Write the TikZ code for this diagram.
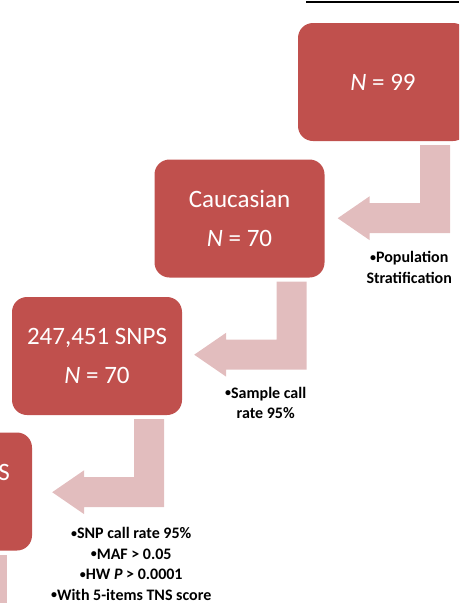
\documentclass[tikz,border=0pt]{standalone}
\usepackage{fontspec}
\setmainfont{Carlito}
\usetikzlibrary{calc}
\definecolor{boxred}{HTML}{C0504D}
\definecolor{arrowpink}{RGB}{226,189,190}
\newcommand{\blt}{\raisebox{.15ex}{\scalebox{.75}{\textbullet}}}
\tikzset{
  stepbox/.style={fill=boxred, rounded corners=15pt, minimum width=170pt, minimum height=118pt,
    inner sep=0pt, text=white, align=center, font=\fontsize{25}{39}\selectfont},
  steplabel/.style={anchor=north, inner sep=0pt, align=center, font=\bfseries\fontsize{16}{20.5}\selectfont}
}

\begin{document}
\begin{tikzpicture}[x=1pt,y=-1pt]
  \useasboundingbox (0,0) rectangle (459,603);
  \clip (0,0) rectangle (459,603);
  \draw[line width=2pt] (306,2) -- (459,2);
  % steps
  \node[stepbox] (pop) at (383,82) {\textit{N} = 99};
  \node[stepbox] (cauc) at (239.5,218.5) {Caucasian\\\textit{N} = 70};
  \node[stepbox] (snps) at (97,356) {247,451 SNPS\\\textit{N} = 70};
  \node[stepbox] (final) at (-53,491.5) {};
  \node[anchor=east, inner sep=0pt, text=white, font=\fontsize{25}{39}\selectfont] (final-txt) at (10,472) {S};
  % bent arrows
  \foreach \a/\b/\gap in {pop/cauc/13, cauc/snps/12, snps/final/20} {
    \coordinate (c) at ($(\a.south east)+(-48,4)$);
    \coordinate (t) at ($(\b.east)+(\gap,0)$);
    \fill[arrowpink] (c) -- ++(30,0) -- ++(0,88) -- ($(t |- c)+(32,88)$) -- ++(0,7)
      -- ($(t |- c)+(0,73)$) -- ($(t |- c)+(32,51)$) -- ++(0,7) -- ($(c)+(0,58)$) -- cycle;
  }
  \fill[arrowpink] ($(final.south east)+(-57,4)$) rectangle ++(32,60);
  % filters
  \node[steplabel] (pop-lbl) at ($(pop.south east)+(-59,110)$) {\blt Population\\Stratification};
  \node[steplabel] (cauc-lbl) at ($(cauc.south east)+(-59,109)$) {\blt Sample call\\rate 95\%};
  \node[steplabel] (snps-lbl) at ($(snps.south east)+(-51,112)$)
    {\blt SNP call rate 95\%\\\blt MAF > 0.05\\\blt HW \textit{P} > 0.0001\\\blt With 5-items TNS score};
\end{tikzpicture}
\end{document}
